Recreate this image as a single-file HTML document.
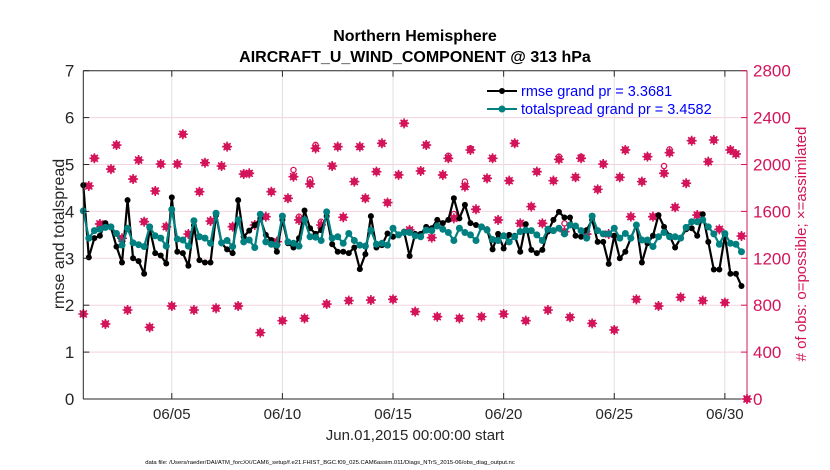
<!DOCTYPE html>
<html><head><meta charset="utf-8">
<style>
html,body{margin:0;padding:0;background:#fff;}
svg{display:block;font-family:"Liberation Sans",Arial,sans-serif;}
</style></head>
<body>
<svg id="chart" width="830" height="470" viewBox="0 0 830 470" xmlns="http://www.w3.org/2000/svg">
<rect x="0" y="0" width="830" height="470" fill="#fff"/>
<g id="grid"></g>
<g id="marks"></g>
<g id="axes"></g>
<text x="415" y="41" text-anchor="middle" font-size="16" font-weight="bold" fill="#000">Northern Hemisphere</text>
<text x="415" y="62" text-anchor="middle" font-size="16" font-weight="bold" fill="#000">AIRCRAFT_U_WIND_COMPONENT @ 313 hPa</text>
<text transform="translate(64,234) rotate(-90)" text-anchor="middle" font-size="16" fill="#262626">rmse and totalspread</text>
<text transform="translate(806,244) rotate(-90)" text-anchor="middle" font-size="15" fill="#d4145a"># of obs: o=possible; ×=assimilated</text>
<text x="415" y="440" text-anchor="middle" font-size="15" fill="#262626">Jun.01,2015 00:00:00 start</text>
<text x="330" y="464" text-anchor="middle" font-size="5.9" fill="#000">data file: /Users/raeder/DAI/ATM_forcXX/CAM6_setup/f.e21.FHIST_BGC.f09_025.CAM6assim.011/Diags_NTrS_2015-06/obs_diag_output.nc</text>
<g>
  <g>
    <line x1="487" y1="91" x2="517" y2="91" stroke="#000" stroke-width="2"/>
    <circle cx="502" cy="91" r="3" fill="#000"/>
    <text x="521" y="96" font-size="14.5" fill="#0000ff">rmse grand pr = 3.3681</text>
  </g>
  <g>
    <line x1="487" y1="109" x2="517" y2="109" stroke="#008080" stroke-width="2"/>
    <circle cx="502" cy="109" r="3.5" fill="#008080"/>
    <text x="521" y="114" font-size="14.5" fill="#0000ff">totalspread grand pr = 3.4582</text>
  </g>
</g>
</svg>
<script>
const rmse = [4.56,3.02,3.43,3.48,3.75,3.66,3.25,2.91,4.24,3.00,2.94,2.67,3.64,3.11,3.06,2.89,4.30,3.14,3.11,2.84,3.70,2.96,2.91,2.91,3.92,3.32,3.19,3.11,4.24,3.46,
3.59,3.71,3.85,3.50,3.39,3.14,3.82,3.32,3.23,3.43,4.02,3.64,3.52,3.60,3.90,3.30,3.14,3.14,3.11,3.23,2.77,3.09,3.90,3.23,3.28,3.53,3.46,3.50,3.57,3.05,
3.52,3.52,3.67,3.64,3.82,3.75,3.82,4.28,3.85,4.14,3.75,3.71,3.67,3.62,3.19,3.52,3.21,3.50,3.48,3.14,3.73,3.18,3.11,3.18,3.57,3.82,3.99,3.87,3.87,3.48,
3.46,3.60,3.82,3.35,3.35,2.88,3.48,3.00,3.14,3.43,3.71,2.91,3.32,3.48,3.92,3.67,3.48,3.23,3.43,3.62,3.64,3.48,3.94,3.35,2.76,2.76,3.48,2.67,2.67,2.41];
const spread = [4.01,3.43,3.59,3.62,3.66,3.67,3.53,3.28,3.64,3.33,3.29,3.25,3.67,3.48,3.43,3.26,4.04,3.41,3.39,3.26,3.80,3.46,3.43,3.32,3.96,3.33,3.38,3.25,3.82,3.35,
3.39,3.23,3.94,3.35,3.30,3.28,3.90,3.35,3.32,3.26,3.82,3.46,3.45,3.38,3.99,3.43,3.46,3.32,3.53,3.38,3.28,3.26,3.60,3.30,3.32,3.28,3.64,3.50,3.55,3.55,
3.48,3.46,3.60,3.59,3.69,3.62,3.55,3.38,3.64,3.55,3.50,3.38,3.67,3.60,3.40,3.38,3.48,3.35,3.46,3.57,3.60,3.59,3.50,3.38,3.62,3.59,3.64,3.52,3.71,3.69,
3.59,3.43,3.90,3.59,3.52,3.52,3.64,3.43,3.53,3.43,3.71,3.39,3.39,3.25,3.46,3.55,3.46,3.46,3.43,3.66,3.78,3.78,3.82,3.67,3.52,3.30,3.53,3.32,3.30,3.14];
const nAssim = [725,1817,2053,1493,640,1961,2166,1371,759,1876,2038,1512,611,1774,2004,1470,793,2004,2258,1407,759,1768,2015,1518,774,1987,2152,1470,793,1919,
1925,1484,566,1555,1768,1342,668,1712,1896,1527,688,1834,2138,1484,810,1987,2152,1550,839,1854,2152,1712,844,1939,2181,1675,850,1911,2351,1442,
745,1945,2166,1376,702,1911,2053,1541,688,1811,2124,1618,702,1882,2053,1527,725,1862,2181,1498,668,1641,1939,1498,759,1862,2044,1427,697,1891,
2053,1407,645,1788,2004,1407,589,1891,2124,1555,850,1854,2067,1555,793,1925,2101,1635,867,1840,2203,1569,839,2024,2209,1447,822,2124,2090,1390,0];
const nPossExtra = {38:1953,39:1555,41:1874,42:2167,43:1512,66:2075,67:1578,69:1854,70:2138,86:2067,87:1498,90:2067,105:1987,106:2129};
const xTickDays = [4,9,14,19,24,29];
const xTickLabels = ["06/05","06/10","06/15","06/20","06/25","06/30"];
const yTicks = [0,1,2,3,4,5,6,7];
const yRightTicks = [0,400,800,1200,1600,2000,2400,2800];

const NS="http://www.w3.org/2000/svg";
const L=83.3,R=747,T=70.7,B=399;
const xs=d=>L+d/30*(R-L);
const ys=v=>B-v/7*(B-T);
const yr=c=>B-c/2800*(B-T);
const dayOf=i=>i*0.25;
function mk(tag,attrs,parent){const e=document.createElementNS(NS,tag);for(const k in attrs)e.setAttribute(k,attrs[k]);parent.appendChild(e);return e;}
const grid=document.getElementById('grid'),marks=document.getElementById('marks'),axes=document.getElementById('axes');

yTicks.forEach(v=>{if(v>0&&v<7){const g=mk('line',{x1:L,x2:R,y1:ys(v),y2:ys(v),stroke:'#f3d3df','stroke-width':1},grid);

}});
xTickDays.forEach(d=>{const g=mk('line',{x1:xs(d),x2:xs(d),y1:T,y2:B,stroke:'#e0e0e0','stroke-width':1},grid);

});

nAssim.forEach((c,i)=>{
  const x=xs(dayOf(i));
  const p=(nPossExtra[i]!==undefined)?nPossExtra[i]:c;
  const ring=mk('circle',{cx:x,cy:yr(p),r:2.6,fill:'#fff',stroke:'#d4145a','stroke-width':1.3},marks);
  
  
  const y=yr(c);
  const g=mk('g',{},marks);
  
  
  mk('circle',{cx:x,cy:y,r:3.6,fill:'#d4145a'},g);
  mk('path',{d:`M${x-5},${y}H${x+5}M${x},${y-5}V${y+5}M${x-3.5},${y-3.5}L${x+3.5},${y+3.5}M${x-3.5},${y+3.5}L${x+3.5},${y-3.5}`,stroke:'#d4145a','stroke-width':1.6},g);
});

function series(vals,color,r,name){
  const pts=vals.map((v,i)=>xs(dayOf(i)).toFixed(2)+','+ys(v).toFixed(2)).join(' ');
  const pl=mk('polyline',{points:pts,fill:'none',stroke:color,'stroke-width':2.2,'stroke-linejoin':'round'},marks);
  
  
  vals.forEach((v,i)=>{const c=mk('circle',{cx:xs(dayOf(i)),cy:ys(v),r:r,fill:color},marks);
  
  });
}
series(rmse,'#000',3,'rmse');
series(spread,'#008080',3.5,'totalspread');

const frame=[['line',{x1:L,x2:R,y1:T,y2:T,stroke:'#262626'}],['line',{x1:L,x2:R,y1:B,y2:B,stroke:'#262626'}],['line',{x1:L,x2:L,y1:T,y2:B,stroke:'#262626'}],['line',{x1:R,x2:R,y1:T,y2:B,stroke:'#d4145a'}]];
frame.forEach(f=>{const e=mk(f[0],Object.assign({'stroke-width':1},f[1]),axes);

});
yTicks.forEach(v=>{
  mk('line',{x1:L,x2:L+6,y1:ys(v),y2:ys(v),stroke:'#262626'},axes);
  const t=mk('text',{x:L-9,y:ys(v)+6,'text-anchor':'end','font-size':17,fill:'#262626'},axes);
  t.textContent=v;
  
  
});
yRightTicks.forEach(c=>{
  mk('line',{x1:R-6,x2:R,y1:yr(c),y2:yr(c),stroke:'#d4145a'},axes);
  const t=mk('text',{x:R+6,y:yr(c)+6,'text-anchor':'start','font-size':17,fill:'#d4145a'},axes);
  t.textContent=c;
  
  
});
xTickDays.forEach((d,k)=>{
  mk('line',{x1:xs(d),x2:xs(d),y1:B,y2:B-6,stroke:'#262626'},axes);
  mk('line',{x1:xs(d),x2:xs(d),y1:T,y2:T+6,stroke:'#262626'},axes);
  const t=mk('text',{x:xs(d),y:B+20,'text-anchor':'middle','font-size':15,fill:'#262626'},axes);
  t.textContent=xTickLabels[k];
  
  
});
</script>
</body></html>
